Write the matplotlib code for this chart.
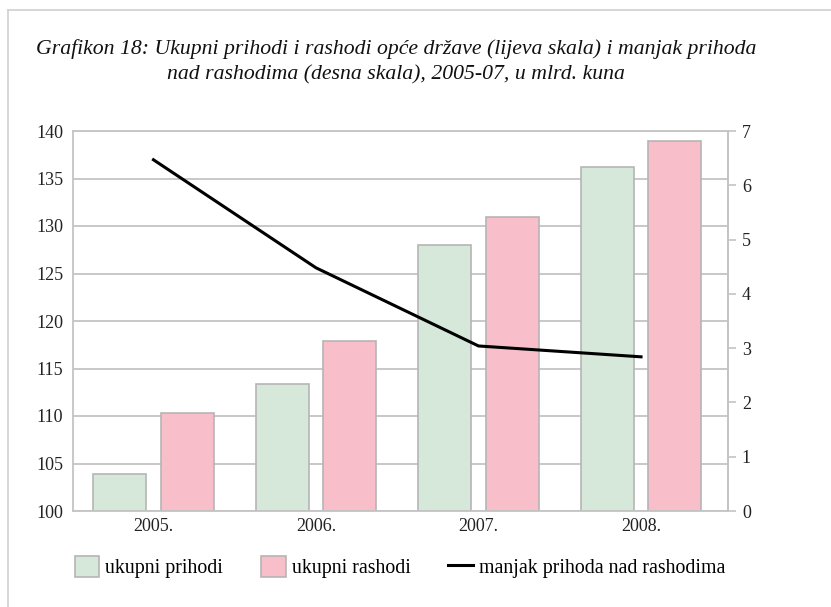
import matplotlib
matplotlib.use("Agg")
import matplotlib.pyplot as plt
import numpy as np
from matplotlib.patches import Patch
from matplotlib.lines import Line2D

years = ["2005.", "2006.", "2007.", "2008."]
prihodi = [103.9, 113.4, 128.0, 136.2]
rashodi = [110.3, 117.9, 130.9, 139.0]
manjak = [6.47, 4.48, 3.04, 2.84]
left_ticks = [100, 105, 110, 115, 120, 125, 130, 135, 140]
right_ticks = [0, 1, 2, 3, 4, 5, 6, 7]

green = "#d6e8da"
pink = "#f8bfca"
edge = "#b5b5b5"
grid = "#c4c4c4"
serif = ["Liberation Serif", "DejaVu Serif"]

plt.rcParams["font.family"] = serif

fig = plt.figure(figsize=(8.31, 6.07), dpi=100)
ax = fig.add_axes([73/831, 1-511/607, (728-73)/831, (511-131)/607])
x = np.arange(len(years))
w = 0.326
off = 0.207
ax.bar(x - off, [p - 100 for p in prihodi], w, bottom=100, color=green, edgecolor=edge, linewidth=1.2, zorder=2)
ax.bar(x + off, [r - 100 for r in rashodi], w, bottom=100, color=pink, edgecolor=edge, linewidth=1.2, zorder=2)
ax.set_ylim(100, 140)
ax.set_xlim(-0.495, 3.535)
ax.set_yticks(left_ticks)
ax.set_xticks(x)
ax.set_xticklabels(years, fontsize=13, color="#222222")
ax.tick_params(axis="y", length=0, pad=7, labelsize=13, labelcolor="#222222")
ax.tick_params(axis="x", length=0, pad=5)
ax.yaxis.grid(True, color=grid, linewidth=1.3, zorder=0)
ax.set_axisbelow(True)
for s in ax.spines.values():
    s.set_color(grid)
    s.set_linewidth(1.3)

ax2 = ax.twinx()
ax2.plot(x, manjak, color="black", linewidth=2.2, zorder=5)
ax2.set_ylim(0, 7)
ax2.set_yticks(right_ticks)
ax2.tick_params(axis="y", length=6, width=1.2, color=grid, pad=4, labelsize=13, labelcolor="#222222")
for s in ax2.spines.values():
    s.set_visible(False)
ax2.spines["right"].set_visible(True)
ax2.spines["right"].set_color(grid)
ax2.spines["right"].set_linewidth(1.3)

fig.text(0.477, 1-49/607, "Grafikon 18: Ukupni prihodi i rashodi opće države (lijeva skala) i manjak prihoda",
         ha="center", va="center", fontsize=15.7, style="italic", color="#111111")
fig.text(0.477, 1-75/607, "nad rashodima (desna skala), 2005-07, u mlrd. kuna",
         ha="center", va="center", fontsize=15.7, style="italic", color="#111111")

handles = [Patch(facecolor=green, edgecolor=edge, linewidth=1.2),
           Patch(facecolor=pink, edgecolor=edge, linewidth=1.2),
           Line2D([0], [0], color="black", linewidth=2.2)]
labels = ["ukupni prihodi", "ukupni rashodi", "manjak prihoda nad rashodima"]
fig.legend(handles, labels, loc="center", bbox_to_anchor=(400/831, 1-567/607), ncol=3,
           frameon=False, fontsize=14.3, handlelength=1.25, handleheight=1.25,
           handletextpad=0.3, columnspacing=1.9)

# page frame lines
fig.add_artist(Line2D([8/831, 1], [1-10/607, 1-10/607], color="#d0d0d0", linewidth=1.2, transform=fig.transFigure))
fig.add_artist(Line2D([8/831, 8/831], [0, 1-10/607], color="#d0d0d0", linewidth=1.2, transform=fig.transFigure))

fig.savefig("out.png", dpi=100)
